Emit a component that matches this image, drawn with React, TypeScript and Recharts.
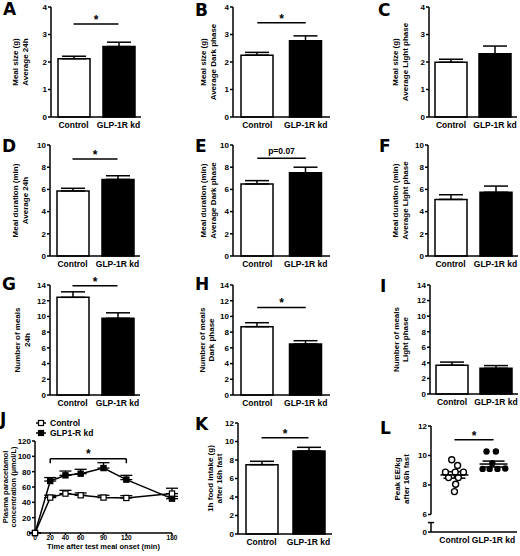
import React from 'react';
import {
  BarChart,
  Bar,
  Cell,
  XAxis,
  YAxis,
  ErrorBar,
  ReferenceLine,
  LineChart,
  Line,
  ComposedChart,
  Scatter,
  Legend,
} from 'recharts';

const groups = ['Control', 'GLP-1R kd'];

// bar panels: mean and SEM for [Control, GLP-1R kd]
const sizeAvg = [2.12, 2.56];
const sizeAvgSem = [0.09, 0.16];
const sizeDark = [2.25, 2.77];
const sizeDarkSem = [0.1, 0.18];
const sizeLight = [1.99, 2.3];
const sizeLightSem = [0.11, 0.28];
const durAvg = [5.86, 6.9];
const durAvgSem = [0.24, 0.33];
const durDark = [6.49, 7.5];
const durDarkSem = [0.3, 0.5];
const durLight = [5.1, 5.74];
const durLightSem = [0.42, 0.56];
const numAvg = [12.43, 9.76];
const numAvgSem = [0.7, 0.7];
const numDark = [8.7, 6.49];
const numDarkSem = [0.5, 0.42];
const numLight = [3.7, 3.3];
const numLightSem = [0.4, 0.35];
const fastIntake = [7.5, 8.97];
const fastIntakeSem = [0.36, 0.4];

const ticks4 = [0, 1, 2, 3, 4];
const ticks10 = [0, 2, 4, 6, 8, 10];
const ticks12 = [0, 2, 4, 6, 8, 10, 12];
const ticks14 = [0, 2, 4, 6, 8, 10, 12, 14];

// J: paracetamol time course
const lineNames = ['Control', 'GLP1-R kd'];
const times = [0, 20, 40, 60, 90, 120, 180];
const ctrlConc = [0, 46.2, 51.4, 49.2, 46.2, 45.7, 51.4];
const ctrlSem = [0, 3, 4.3, 3, 3, 3, 7];
const kdConc = [0, 67.8, 75.2, 77.4, 84.7, 69.6, 44.8];
const kdSem = [0, 4.5, 5.6, 5.7, 7, 5.6, 3];
const concTicks = [0, 20, 40, 60, 80, 100, 120];

// L: peak EE/kg, individual animals (x jitter in group units)
const ctrlEE = [9.71, 9.32, 8.87, 8.87, 8.87, 8.5, 8.5, 8.05, 7.55];
const ctrlJitter = [-0.07, 0.08, -0.23, 0.02, 0.23, -0.15, 0.1, 0.03, 0];
const kdEE = [10.27, 10.27, 9.48, 9.09, 9.09, 9.09, 9.12];
const kdJitter = [-0.18, 0.06, -0.03, -0.28, -0.1, 0.1, 0.3];
const eeMean = [8.68, 9.42];
const eeSem = [0.22, 0.2];
const eeTicks = [6, 8, 10, 12];
const eeZero = 4.81; // where the broken axis puts 0
const eeBreak = 5.45;

const BLACK = '#000';
const Y_W = 45;
const M_TOP = 16;
const X_H = 18;
const TITLE_SIZE = 8;

const tickStyle = { fontSize: 8, fontWeight: 'bold', fill: BLACK };
const catStyle = { fontSize: 8.5, fontWeight: 'bold', fill: BLACK };
const axisStyle = { stroke: BLACK, strokeWidth: 1.5 };

function AxisTitle(props: any) {
  const { viewBox, lines, dx, size } = props;
  const { x, y, width, height } = viewBox;
  const cy = y + height / 2;
  return (
    <g>
      {lines.map((t: string, i: number) => {
        const lx = x + width + dx[i];
        return (
          <text
            key={t}
            x={lx}
            y={cy}
            transform={`rotate(-90 ${lx} ${cy})`}
            textAnchor="middle"
            dominantBaseline="central"
            fontSize={size}
            fontWeight="bold"
            fill={BLACK}
          >
            {t}
          </text>
        );
      })}
    </g>
  );
}

// tick marks and labels of the broken axis in L, placed along the y axis box
function BrokenAxis(props: any) {
  const { viewBox, ticks, min, max } = props;
  const { x, y, width, height } = viewBox;
  const ax = x + width;
  const pos = (v: number) => y + ((max - v) / (max - min)) * height;
  return (
    <g>
      {ticks.map((t: { v: number; text: string }) => {
        const ty = pos(t.v);
        return (
          <g key={t.text}>
            <line x1={ax - 3} x2={ax} y1={ty} y2={ty} stroke={BLACK} strokeWidth={1.5} />
            <text x={ax - 4} y={ty} textAnchor="end" dominantBaseline="central" {...tickStyle}>
              {t.text}
            </text>
          </g>
        );
      })}
      <AxisTitle viewBox={viewBox} lines={['Peak EE/kg', 'after 16h fast']} dx={[-34, -25]} size={TITLE_SIZE} />
    </g>
  );
}

function sigLabel(text: string) {
  const star = text === '*';
  return {
    value: text,
    position: 'top' as const,
    offset: star ? 0 : 4,
    fontSize: star ? 12 : 8.5,
    fontWeight: 'bold',
    fill: BLACK,
  };
}

interface BarPanelProps {
  axisX: number;
  top: number;
  bottom: number;
  plotW: number;
  values: number[];
  sems: number[];
  ticks: number[];
  yLabel: string[];
  dx: number[];
  sig?: string;
  sigAt?: number;
}

function BarPanel(p: BarPanelProps) {
  const data = groups.map((g, i) => ({ name: g, value: p.values[i], sem: [0, p.sems[i]] }));
  const max = p.ticks[p.ticks.length - 1];
  return (
    <div style={{ position: 'absolute', left: p.axisX - Y_W, top: p.top - M_TOP }}>
      <BarChart
        width={Y_W + p.plotW + 4}
        height={M_TOP + (p.bottom - p.top) + X_H}
        data={data}
        margin={{ top: M_TOP, right: 4, bottom: 0, left: 0 }}
        barSize={32}
      >
        <XAxis
          dataKey="name"
          tickLine={false}
          axisLine={axisStyle}
          tick={catStyle}
          height={X_H}
          interval={0}
          tickSize={4}
          tickMargin={1}
        />
        <YAxis
          width={Y_W}
          domain={[0, max]}
          ticks={p.ticks}
          interval={0}
          axisLine={axisStyle}
          tickLine={axisStyle}
          tickSize={3}
          tickMargin={1}
          tick={tickStyle}
          label={<AxisTitle lines={p.yLabel} dx={p.dx} size={TITLE_SIZE} />}
        />
        <Bar dataKey="value" isAnimationActive={false}>
          {data.map((d, i) => (
            <Cell key={d.name} fill={i === 0 ? '#fff' : BLACK} stroke={BLACK} strokeWidth={1.5} />
          ))}
          <ErrorBar dataKey="sem" width={12} stroke={BLACK} strokeWidth={1.5} />
        </Bar>
        {p.sig && (
          <ReferenceLine
            segment={[
              { x: groups[0], y: p.sigAt },
              { x: groups[1], y: p.sigAt },
            ]}
            stroke={BLACK}
            strokeWidth={1.5}
            label={sigLabel(p.sig)}
          />
        )}
      </BarChart>
    </div>
  );
}

const squareDot = (fill: string) => (props: any) => {
  const { cx, cy, index } = props;
  return (
    <rect
      key={`sq-${fill}-${index}`}
      x={cx - 2.6}
      y={cy - 2.6}
      width={5.2}
      height={5.2}
      fill={fill}
      stroke={BLACK}
      strokeWidth={1.2}
    />
  );
};

function TimeLegend() {
  return (
    <div style={{ fontSize: 8.5, fontWeight: 'bold', lineHeight: '10px', color: BLACK }}>
      {lineNames.map((n, i) => (
        <div key={n} style={{ display: 'flex', alignItems: 'center' }}>
          <svg width={10} height={10}>
            <line x1={0} x2={10} y1={5} y2={5} stroke={BLACK} strokeWidth={1.5} />
            <rect x={2.5} y={2.5} width={5} height={5} fill={i === 0 ? '#fff' : BLACK} stroke={BLACK} strokeWidth={1.2} />
          </svg>
          <span style={{ marginLeft: 4 }}>{n}</span>
        </div>
      ))}
    </div>
  );
}

function TimePanel() {
  const data = times.map((t, i) => ({
    t,
    ctrl: ctrlConc[i],
    ctrlErr: [0, ctrlSem[i]],
    kd: kdConc[i],
    kdErr: [0, kdSem[i]],
  }));
  return (
    <div style={{ position: 'absolute', left: 0, top: 415 }}>
      <LineChart width={180} height={138} data={data} margin={{ top: 26, right: 8, bottom: 4, left: 0 }}>
        <XAxis
          dataKey="t"
          type="number"
          domain={[0, 180]}
          ticks={times}
          interval={0}
          axisLine={axisStyle}
          tickLine={axisStyle}
          tickSize={2}
          tickMargin={0}
          tick={{ ...tickStyle, fontSize: 6.5 }}
          height={16}
          label={{
            value: 'Time after test meal onset (min)',
            position: 'insideBottom',
            offset: 0,
            fontSize: 7.5,
            fontWeight: 'bold',
            fill: BLACK,
          }}
        />
        <YAxis
          width={35}
          domain={[0, 120]}
          ticks={concTicks}
          interval={0}
          axisLine={axisStyle}
          tickLine={axisStyle}
          tickSize={3}
          tickMargin={1}
          tick={tickStyle}
          label={
            <AxisTitle lines={['Plasma paracetamol', 'concentration (\u00b5mol/L)']} dx={[-30, -22]} size={7.5} />
          }
        />
        <Legend
          layout="vertical"
          align="center"
          verticalAlign="middle"
          content={<TimeLegend />}
          wrapperStyle={{ top: 3, left: 36, width: 'auto' }}
        />
        <ReferenceLine segment={[{ x: 20, y: 97 }, { x: 120, y: 97 }]} stroke={BLACK} strokeWidth={1.5} label={{ ...sigLabel('*'), offset: 1 }} />
        <ReferenceLine segment={[{ x: 20, y: 97 }, { x: 20, y: 91 }]} stroke={BLACK} strokeWidth={1.5} />
        <ReferenceLine segment={[{ x: 120, y: 97 }, { x: 120, y: 91 }]} stroke={BLACK} strokeWidth={1.5} />
        <Line
          dataKey="kd"
          stroke={BLACK}
          strokeWidth={1.5}
          dot={squareDot(BLACK)}
          activeDot={false}
          isAnimationActive={false}
        >
          <ErrorBar dataKey="kdErr" width={6} stroke={BLACK} strokeWidth={1.3} />
        </Line>
        <Line
          dataKey="ctrl"
          stroke={BLACK}
          strokeWidth={1.5}
          dot={squareDot('#fff')}
          activeDot={false}
          isAnimationActive={false}
        >
          <ErrorBar dataKey="ctrlErr" width={6} stroke={BLACK} strokeWidth={1.3} />
        </Line>
      </LineChart>
    </div>
  );
}

const openCircle = (props: any) => (
  <circle cx={props.cx} cy={props.cy} r={3} fill="#fff" stroke={BLACK} strokeWidth={1.4} />
);
const filledCircle = (props: any) => <circle cx={props.cx} cy={props.cy} r={3.2} fill={BLACK} />;
const meanBar = (props: any) => (
  <line x1={props.cx - 14} x2={props.cx + 14} y1={props.cy} y2={props.cy} stroke={BLACK} strokeWidth={1.5} />
);

function EEPanel() {
  const ctrlPts = ctrlEE.map((y, i) => ({ x: 1 + ctrlJitter[i], y }));
  const kdPts = kdEE.map((y, i) => ({ x: 2 + kdJitter[i], y }));
  const meanPts = eeMean.map((y, i) => ({ x: i + 1, y, sem: eeSem[i] }));
  const axisTicks = [{ v: eeZero, text: '0' }, ...eeTicks.map((v) => ({ v, text: String(v) }))];
  const xMin = 0.4;
  const tickW = 0.08;
  const top = 425.7;
  const bottom = 531.7;
  return (
    <div style={{ position: 'absolute', left: 431 - Y_W, top: top - M_TOP }}>
      <ComposedChart
        width={Y_W + 86 + 3}
        height={M_TOP + (bottom - top) + X_H}
        margin={{ top: M_TOP, right: 3, bottom: 0, left: 0 }}
      >
        <XAxis
          dataKey="x"
          type="number"
          domain={[xMin, 2.6]}
          allowDataOverflow
          ticks={[1, 2]}
          interval={0}
          tickFormatter={(v: number) => groups[v - 1]}
          tickLine={false}
          axisLine={axisStyle}
          tick={catStyle}
          height={X_H}
          tickSize={4}
          tickMargin={1}
        />
        <YAxis
          type="number"
          width={Y_W}
          domain={[eeZero, 12]}
          allowDataOverflow
          tick={false}
          axisLine={false}
          tickLine={false}
          label={<BrokenAxis ticks={axisTicks} min={eeZero} max={12} />}
        />
        {/* broken y axis: 6-12 and a short stub above 0 */}
        <ReferenceLine segment={[{ x: xMin, y: 6 }, { x: xMin, y: 12 }]} stroke={BLACK} strokeWidth={1.5} ifOverflow="visible" />
        <ReferenceLine segment={[{ x: xMin, y: eeZero }, { x: xMin, y: eeBreak }]} stroke={BLACK} strokeWidth={1.5} ifOverflow="visible" />
        <ReferenceLine
          segment={[{ x: xMin - tickW, y: eeBreak }, { x: xMin + tickW, y: eeBreak }]}
          stroke={BLACK}
          strokeWidth={1.5}
          ifOverflow="visible"
        />
        <ReferenceLine
          segment={[{ x: 1, y: 11.07 }, { x: 2, y: 11.07 }]}
          stroke={BLACK}
          strokeWidth={1.5}
          label={sigLabel('*')}
        />
        <Scatter data={ctrlPts} dataKey="y" shape={openCircle} isAnimationActive={false} />
        <Scatter data={kdPts} dataKey="y" shape={filledCircle} isAnimationActive={false} />
        <Scatter data={meanPts} dataKey="y" shape={meanBar} isAnimationActive={false}>
          <ErrorBar dataKey="sem" direction="y" width={11} stroke={BLACK} strokeWidth={1.5} />
        </Scatter>
      </ComposedChart>
    </div>
  );
}

const letters = [
  { t: 'A', x: 3, y: 3 },
  { t: 'B', x: 195, y: 4 },
  { t: 'C', x: 378, y: 4 },
  { t: 'D', x: 2, y: 140 },
  { t: 'E', x: 195, y: 140 },
  { t: 'F', x: 379, y: 140 },
  { t: 'G', x: 2, y: 278 },
  { t: 'H', x: 195, y: 278 },
  { t: 'I', x: 380, y: 280 },
  { t: 'J', x: 0, y: 413 },
  { t: 'K', x: 195, y: 418 },
  { t: 'L', x: 380, y: 422 },
];

export default function App() {
  return (
    <div
      style={{
        position: 'absolute',
        left: 0,
        top: 0,
        width: 520,
        height: 556,
        overflow: 'hidden',
        background: '#fff',
        fontFamily: '"Liberation Sans", Arial, sans-serif',
      }}
    >
      {letters.map((l) => (
        <div
          key={l.t}
          style={{
            position: 'absolute',
            left: l.x,
            top: l.y - 2,
            fontSize: 17,
            lineHeight: '17px',
            fontWeight: 'bold',
            fontFamily: '"DejaVu Sans", sans-serif',
          }}
        >
          {l.t}
        </div>
      ))}

      <BarPanel axisX={51} top={7} bottom={117} plotW={90} values={sizeAvg} sems={sizeAvgSem} ticks={ticks4}
        yLabel={['Meal size (g)', 'Average 24h']} dx={[-36, -26]} sig="*" sigAt={3.38} />
      <BarPanel axisX={233} top={7} bottom={117} plotW={97} values={sizeDark} sems={sizeDarkSem} ticks={ticks4}
        yLabel={['Meal size (g)', 'Average Dark phase']} dx={[-30, -20]} sig="*" sigAt={3.43} />
      <BarPanel axisX={429} top={7} bottom={117} plotW={88} values={sizeLight} sems={sizeLightSem} ticks={ticks4}
        yLabel={['Meal size (g)', 'Average Light phase']} dx={[-34, -24]} />

      <BarPanel axisX={50} top={145} bottom={256} plotW={90} values={durAvg} sems={durAvgSem} ticks={ticks10}
        yLabel={['Meal duration (min)', 'Average 24h']} dx={[-35, -25]} sig="*" sigAt={8.74} />
      <BarPanel axisX={233} top={145} bottom={256} plotW={97} values={durDark} sems={durDarkSem} ticks={ticks10}
        yLabel={['Meal duration (min)', 'Average Dark phase']} dx={[-30, -20]} sig="p=0.07" sigAt={8.8} />
      <BarPanel axisX={428} top={145} bottom={256} plotW={90} values={durLight} sems={durLightSem} ticks={ticks10}
        yLabel={['Meal duration (min)', 'Average Light phase']} dx={[-33, -23]} />

      <BarPanel axisX={50} top={285} bottom={395} plotW={90} values={numAvg} sems={numAvgSem} ticks={ticks14}
        yLabel={['Number of meals', '24h']} dx={[-33, -23]} sig="*" sigAt={13.9} />
      <BarPanel axisX={233} top={285} bottom={395} plotW={97} values={numDark} sems={numDarkSem} ticks={ticks14}
        yLabel={['Number of meals', 'Dark phase']} dx={[-31, -22]} sig="*" sigAt={11.14} />
      <BarPanel axisX={430} top={285} bottom={394} plotW={88} values={numLight} sems={numLightSem} ticks={ticks14}
        yLabel={['Number of meals', 'Light phase']} dx={[-34, -25]} />

      <TimePanel />
      <BarPanel axisX={238} top={423} bottom={534} plotW={94} values={fastIntake} sems={fastIntakeSem} ticks={ticks12}
        yLabel={['1h food intake (g)', 'after 16h fast']} dx={[-28, -19]} sig="*" sigAt={10.4} />
      <EEPanel />
    </div>
  );
}
